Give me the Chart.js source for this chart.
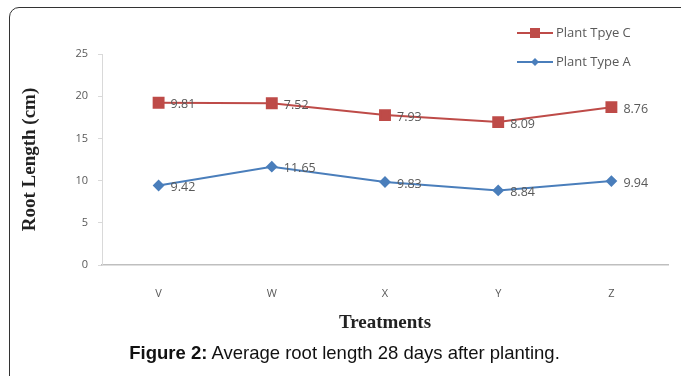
<!DOCTYPE html>
<html>
<head>
<meta charset="utf-8">
<script src="https://cdn.jsdelivr.net/npm/chart.js@4"></script>
<style>
  html, body { margin: 0; padding: 0; background: #fff; }
  #wrap { position: relative; width: 681px; height: 376px; overflow: hidden; }
  #frame {
    position: absolute; left: 9px; top: 7px; width: 700px; height: 420px;
    border: 1.5px solid #333; border-top-left-radius: 10px; box-sizing: border-box;
  }
  #chart { position: absolute; left: 0; top: 0; }
  #caption {
    position: absolute; left: 9px; width: 671px; top: 342px; text-align: center;
    font-family: "Liberation Sans Narrow", "Liberation Sans", Arial, sans-serif;
    font-size: 18.5px; color: #111;
  }
</style>
</head>
<body>
<div id="wrap">
  <div id="frame"></div>
  <canvas id="chart" width="681" height="376"></canvas>
  <div id="caption"><b>Figure 2:</b> Average root length 28 days after planting.</div>
</div>
<script>
const treatments = ["V", "W", "X", "Y", "Z"];
const plantTypeA = [9.42, 11.65, 9.83, 8.84, 9.94];
const plantTypeC = [9.81, 7.52, 7.93, 8.09, 8.76];
const yTicks = [0, 5, 10, 15, 20, 25];

const RED = "#be4b48";
const BLUE = "#4a7ebb";
const GREY = "#595959";

// value next to each point (the own value, not the stacked total)
const valueLabels = {
  id: "valueLabels",
  afterDatasetsDraw(chart) {
    const ctx = chart.ctx;
    ctx.save();
    ctx.font = '12.5px "Open Sans", sans-serif';
    ctx.fillStyle = GREY;
    ctx.textBaseline = "middle";
    chart.data.datasets.forEach((ds, i) => {
      chart.getDatasetMeta(i).data.forEach((pt, j) => {
        ctx.fillText(ds.data[j].toFixed(2), pt.x + 12, pt.y + 2);
      });
    });
    ctx.restore();
  }
};

// legend in the top right corner, Plant Tpye C first
const cornerLegend = {
  id: "cornerLegend",
  afterDraw(chart) {
    const ctx = chart.ctx;
    const items = chart.data.datasets.slice().reverse();
    ctx.save();
    ctx.font = '13px "Open Sans", sans-serif';
    ctx.textBaseline = "middle";
    items.forEach((ds, k) => {
      const y = 33 + k * 29;
      ctx.strokeStyle = ds.borderColor;
      ctx.lineWidth = 2;
      ctx.beginPath();
      ctx.moveTo(517, y);
      ctx.lineTo(553, y);
      ctx.stroke();
      ctx.fillStyle = ds.borderColor;
      if (ds.pointStyle === "rect") {
        ctx.fillRect(530, y - 5, 10, 10);
      } else {
        ctx.beginPath();
        ctx.moveTo(535, y - 4);
        ctx.lineTo(539, y);
        ctx.lineTo(535, y + 4);
        ctx.lineTo(531, y);
        ctx.closePath();
        ctx.fill();
      }
      ctx.fillStyle = GREY;
      ctx.fillText(ds.label, 556, y);
    });
    ctx.restore();
  }
};

new Chart(document.getElementById("chart"), {
  type: "line",
  data: {
    labels: treatments,
    datasets: [
      {
        label: "Plant Type A",
        data: plantTypeA,
        borderColor: BLUE,
        backgroundColor: BLUE,
        borderWidth: 2,
        pointStyle: "rectRot",
        pointRadius: 4.5,
        fill: false
      },
      {
        label: "Plant Tpye C",
        data: plantTypeC,
        borderColor: RED,
        backgroundColor: RED,
        borderWidth: 2,
        pointStyle: "rect",
        pointRadius: 7,
        fill: false
      }
    ]
  },
  options: {
    responsive: false,
    animation: false,
    layout: { padding: { top: 54, left: 17, right: 13, bottom: 40 } },
    plugins: { legend: { display: false }, tooltip: { enabled: false } },
    scales: {
      x: {
        offset: true,
        grid: { display: false },
        border: { color: "#bfbfbf", width: 1.5 },
        ticks: { color: GREY, font: { family: "Open Sans", size: 11 }, padding: 14 },
        title: {
          display: true, text: "Treatments", color: "#222",
          font: { family: "Liberation Serif", size: 19, weight: "bold" },
          padding: { top: 0, bottom: 2 }
        },
        afterFit(scale) { scale.height = 71; }
      },
      y: {
        stacked: true,
        min: 0,
        max: 25,
        afterBuildTicks(scale) { scale.ticks = yTicks.map(v => ({ value: v })); },
        grid: { drawOnChartArea: false, tickLength: 4, color: "#d9d9d9" },
        border: { color: "#d9d9d9", width: 1 },
        ticks: { color: GREY, font: { family: "Open Sans", size: 11 }, padding: 10 },
        title: {
          display: true, text: "Root Length (cm)", color: "#222",
          font: { family: "Liberation Serif", size: 19, weight: "bold" },
          padding: { top: 2, bottom: 0 }
        },
        afterFit(scale) { scale.width = 85; }
      }
    }
  },
  plugins: [valueLabels, cornerLegend]
});
</script>
</body>
</html>
